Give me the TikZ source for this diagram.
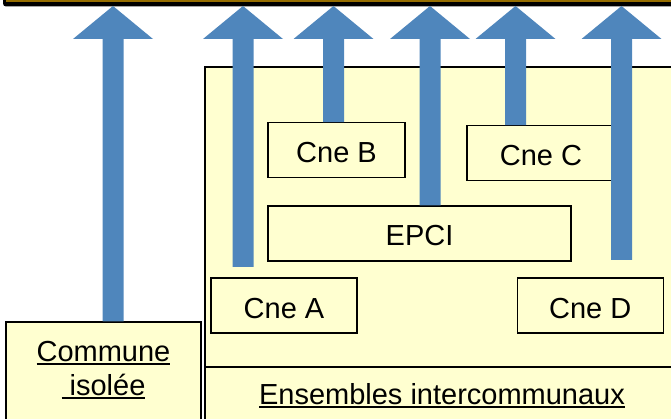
\documentclass[tikz,border=0pt]{standalone}
\usepackage{fontspec}
\setmainfont{Liberation Sans}
\usetikzlibrary{positioning,calc}
\definecolor{jaunepale}{RGB}{255,255,208}
\definecolor{bleufleche}{RGB}{79,134,188}
\definecolor{barreor}{RGB}{150,110,0}
\newcommand{\souligne}[1]{\setbox0\hbox{#1}\rlap{\rule[-3.5pt]{\wd0}{2pt}}\box0}

\begin{document}
\begin{tikzpicture}[x=1pt, y=-1pt,
    boite/.style = {draw=black, fill=jaunepale, line width=1.2pt, inner sep=0pt,
                    minimum height=55pt, text height=25pt, text depth=0pt,
                    font=\fontsize{29}{34}\selectfont},
    fleche/.style = {fill=bleufleche}]
  \useasboundingbox (0,0) rectangle (671,419);
  \clip (0,0) rectangle (671,419);
  % barre du haut
  \fill[black, rounded corners=3pt] (3,-8) rectangle (690,6.5);
  \fill[barreor] (6,0.5) rectangle (690,1.8);
  \coordinate (barre) at (0,6);
  \coordinate (tete) at (0,39);
  % ensembles intercommunaux
  \draw[fill=jaunepale, line width=1.2pt] (205,67) rectangle (690,430);
  \draw[line width=1.2pt] (205,367) -- (690,367);
  \node[font=\fontsize{29}{34}\selectfont, anchor=base] (titre) at (442,404)
     {\souligne{Ensembles intercommunaux}};
  % communes
  \node[boite, minimum width=146pt] (cneA) at (284,305.5) {Cne A};
  \node[boite, minimum width=146pt, right=159pt of cneA] (cneD) {Cne D};
  \node[boite, minimum width=303pt] (epci) at (419.5,233.5) {EPCI};
  \node[boite, minimum width=137pt, above=27pt of epci.north west, anchor=south west] (cneB) {Cne B};
  \node[boite, minimum width=148pt, above=24pt of epci.north east, anchor=south east, xshift=44pt] (cneC) {Cne C};
  \node[boite, minimum width=195pt, text height=39pt, text depth=70pt, anchor=base] (commune) at (103.5,361)
     {\begin{tabular}[t]{@{}c@{}}\souligne{Commune}\\ \souligne{\ isolée}\end{tabular}};
  % fleches
  \coordinate (pied1) at ([xshift=9.5pt]commune.north);
  \coordinate (pied2) at (243,267);
  \coordinate (pied3) at ([xshift=-3pt]cneB.north);
  \coordinate (pied4) at ([xshift=10.5pt]epci.north);
  \coordinate (pied5) at ([xshift=-25.5pt]cneC.north);
  \coordinate (pied6) at (621.5,260);
  \foreach \p in {pied1,pied2,pied3,pied4,pied5,pied6}
    \fill[fleche] ($(\p)+(-10.5,0)$) -- ($(\p |- tete)+(-10.5,0)$) -- ($(\p |- tete)+(-40,0)$)
      -- (\p |- barre) -- ($(\p |- tete)+(40,0)$) -- ($(\p |- tete)+(10.5,0)$)
      -- ($(\p)+(10.5,0)$) -- cycle;
\end{tikzpicture}
\end{document}
